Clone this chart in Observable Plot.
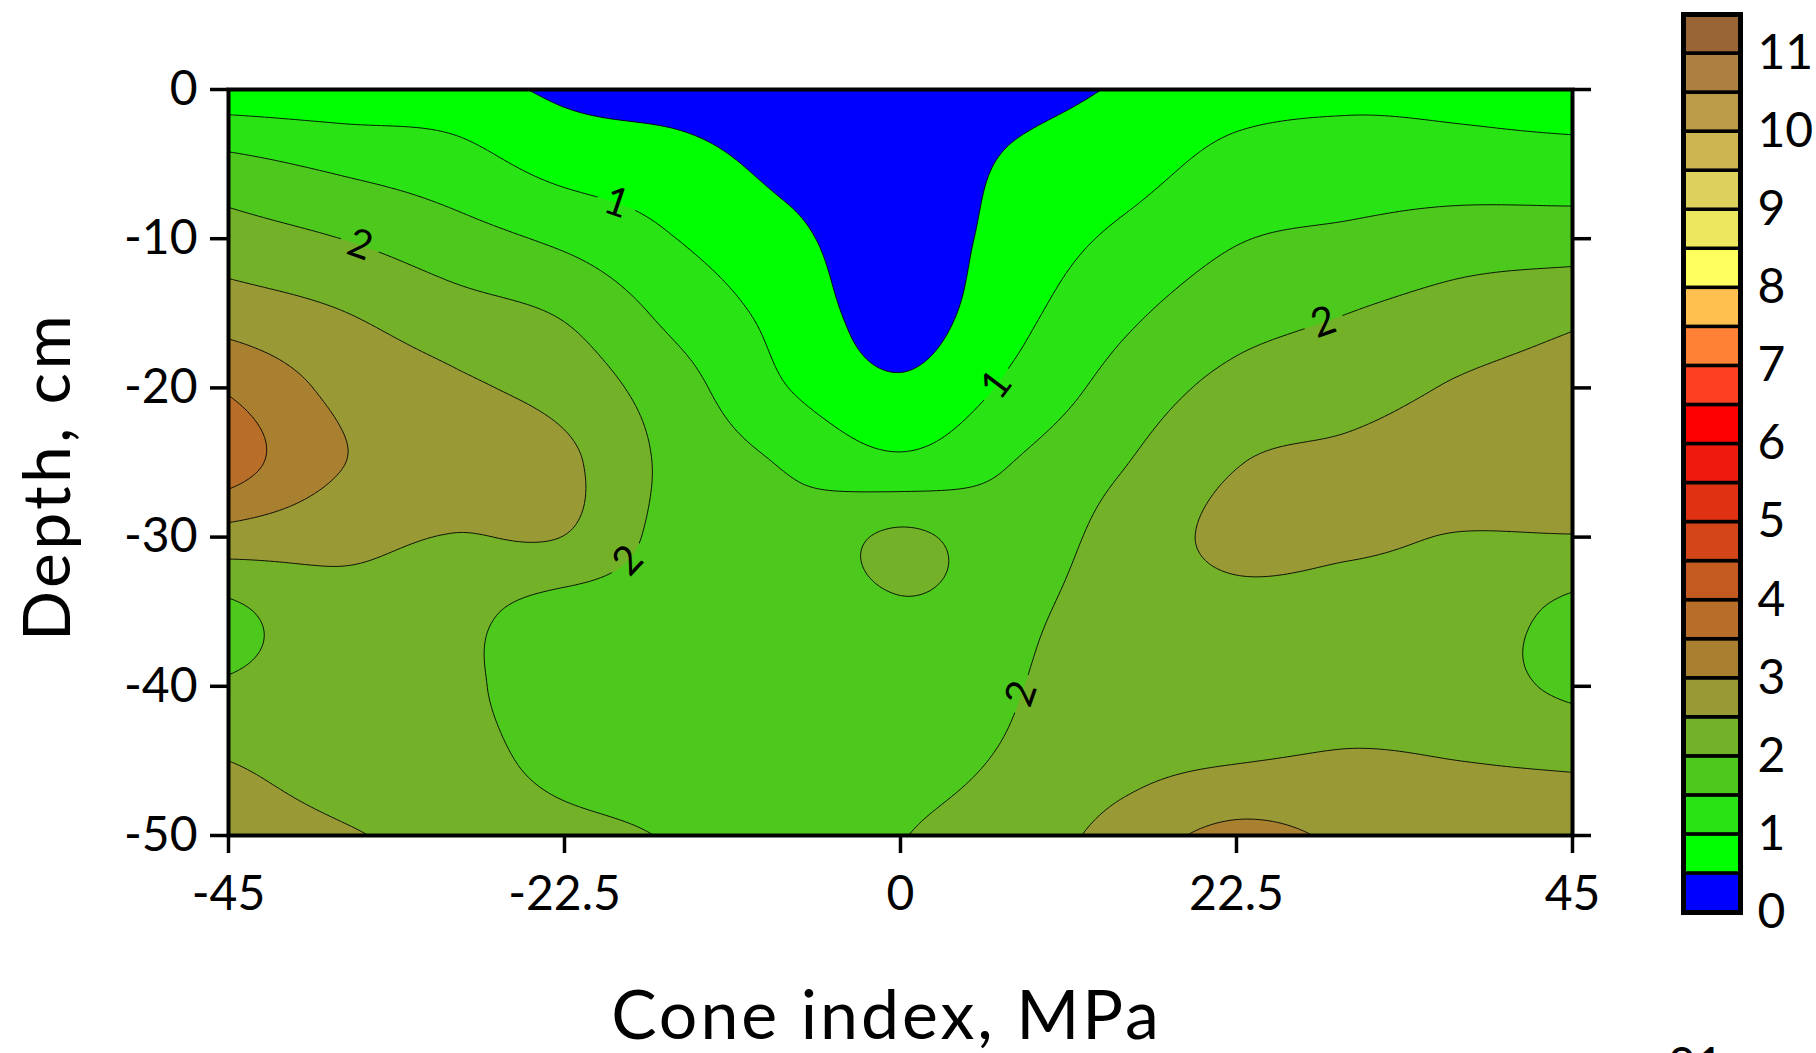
<!DOCTYPE html>
<html><head><meta charset="utf-8">
<script src="https://cdn.jsdelivr.net/npm/d3@7"></script>
<script src="https://cdn.jsdelivr.net/npm/@observablehq/plot@0.6"></script>
<style>
html,body{margin:0;padding:0;background:#fff;overflow:hidden;}
#wrap{position:relative;width:1816px;height:1053px;font-family:Lato,sans-serif;}
#main{position:absolute;left:0;top:0;}
#bar{position:absolute;left:1600px;top:0;}
#cut{position:absolute;left:1668px;top:1040px;font:48px/1 Lato,sans-serif;color:#000;}
</style></head><body>
<div id="wrap"><div id="main"></div><div id="bar"></div><div id="cut">01</div></div>
<script>
// ---- data ----
const xPositions = [-45, -37.5, -30, -22.5, -15, -7.5, 0, 7.5, 15, 22.5, 30, 37.5, 45];
const depths = [0, -5, -10, -15, -20, -25, -30, -35, -40, -45, -50];
const cone0  = [0.65, 0.65, 0.70, 0.40, 0.25, 0.10, 0.00, 0.30, 0.55, 0.80, 0.90, 0.85, 0.70];
const cone5  = [1.64, 1.40, 1.20, 0.83, 0.70, 0.35, 0.12, 0.57, 0.80, 1.15, 1.20, 1.20, 1.20];
const cone10 = [2.22, 2.00, 1.70, 1.40, 1.00, 0.62, 0.20, 0.70, 1.10, 1.47, 1.60, 1.75, 1.75];
const cone15 = [2.76, 2.52, 2.20, 1.95, 1.35, 0.82, 0.28, 0.85, 1.40, 1.80, 2.00, 2.20, 2.40];
const cone20 = [3.45, 2.88, 2.60, 2.30, 1.70, 1.00, 0.58, 1.10, 1.70, 2.15, 2.30, 2.55, 2.70];
const cone25 = [3.75, 3.02, 2.85, 2.60, 1.85, 1.45, 1.10, 1.50, 1.98, 2.48, 2.60, 2.75, 2.85];
const cone30 = [2.80, 2.65, 2.48, 2.49, 1.80, 1.65, 2.08, 1.75, 2.20, 2.62, 2.58, 2.48, 2.48];
const cone35 = [1.90, 2.30, 2.15, 1.80, 1.75, 1.70, 1.95, 1.90, 2.25, 2.35, 2.30, 2.25, 1.88];
const cone40 = [2.05, 2.20, 2.10, 1.75, 1.70, 1.65, 1.80, 1.97, 2.30, 2.20, 2.30, 2.20, 1.90];
const cone45 = [2.50, 2.30, 2.20, 1.85, 1.75, 1.60, 1.85, 2.05, 2.35, 2.48, 2.55, 2.50, 2.45];
const cone50 = [2.75, 2.55, 2.35, 2.15, 1.95, 1.60, 1.98, 2.20, 2.70, 3.15, 2.90, 2.70, 2.65];
const coneRows = [cone0, cone5, cone10, cone15, cone20, cone25, cone30, cone35, cone40, cone45, cone50];

const levels = d3.range(0, 11.5, 0.5);            // 0, 0.5, ... 11
const bandColors = ["#0000FF","#00FF00","#2AE314","#4CC91C","#73B228","#999A36","#A8802F","#B86E28",
  "#C55A20","#D4461A","#E03112","#EE1A0C","#FF0000","#FF4020","#FF8136","#FFC04F","#FFFF60",
  "#EDE760","#DED05D","#CDB651","#BC9B48","#AB8040","#9A6535"];
const barTicks = d3.range(0, 12);
const xTicks = [-45, -22.5, 0, 22.5, 45];
const yTicks = [0, -10, -20, -30, -40, -50];
const labelText = ["1", "2", "2", "1", "2", "2"];
const labelLevel = [1, 2, 2, 1, 2, 2];
const labelX = [-19.3, -36.3, -18.0, 6.7, 28.3, 8.1];
const labelY = [-8.3, -10.7, -31.8, -20.0, -15.5, -40.5];
const xTitle = "Cone index, MPa";
const yTitle = "Depth, cm";

// ---- smooth interpolation of the grid (Catmull-Rom) ----
const NXn = xPositions.length, NYn = depths.length;
const dxN = xPositions[1] - xPositions[0], dyN = depths[0] - depths[1];
function g(i, j) {
  if (i < 0) return 2 * g(0, j) - g(1, j);
  if (i >= NYn) return 2 * g(NYn - 1, j) - g(NYn - 2, j);
  if (j < 0) return 2 * g(i, 0) - g(i, 1);
  if (j >= NXn) return 2 * g(i, NXn - 1) - g(i, NXn - 2);
  return coneRows[i][j];
}
function cr(p0, p1, p2, p3, t) {
  return 0.5 * (2 * p1 + (-p0 + p2) * t + (2 * p0 - 5 * p1 + 4 * p2 - p3) * t * t + (-p0 + 3 * p1 - 3 * p2 + p3) * t * t * t);
}
function field(x, y) {
  const u = (x - xPositions[0]) / dxN, v = (depths[0] - y) / dyN;
  const j = Math.max(0, Math.min(NXn - 2, Math.floor(u))), t = u - j;
  const i = Math.max(0, Math.min(NYn - 2, Math.floor(v))), s = v - i;
  const r = [];
  for (let k = -1; k <= 2; k++) r.push(cr(g(i + k, j - 1), g(i + k, j), g(i + k, j + 1), g(i + k, j + 2), t));
  return cr(r[0], r[1], r[2], r[3], s);
}
const x1 = xPositions[0], x2 = xPositions[NXn - 1], y1 = depths[0], y2 = depths[NYn - 1];
const GW = 540, GH = 300;
const values = new Float64Array(GW * GH);
for (let i = 0; i < GH; i++) for (let j = 0; j < GW; j++) {
  const x = x1 + (j + 0.5) * (x2 - x1) / GW, y = y1 + (i + 0.5) * (y2 - y1) / GH;
  values[i * GW + j] = Math.max(0.001, field(x, y));
}

// ---- layout ----
const W = 1816, H = 1053, mL = 228, mR = 244, mT = 89, mB = 218;
const kx = (W - mL - mR) / (x2 - x1), ky = (H - mT - mB) / (y1 - y2);

// contour labels snapped onto their level and turned along the line
const labels = labelText.map((text, n) => {
  let x = labelX[n], y = labelY[n];
  const h = 0.01;
  for (let it = 0; it < 30; it++) {
    const f = field(x, y) - labelLevel[n];
    const fx = (field(x + h, y) - field(x - h, y)) / (2 * h);
    const fy = (field(x, y + h) - field(x, y - h)) / (2 * h);
    const gg = fx * fx + fy * fy;
    if (gg < 1e-9) break;
    x -= f * fx / gg; y -= f * fy / gg;
  }
  const fx = (field(x + h, y) - field(x - h, y)) / (2 * h);
  const fy = (field(x, y + h) - field(x, y - h)) / (2 * h);
  const gX = fx / kx, gY = -fy / ky;
  let ang = Math.atan2(gX, -gY) * 180 / Math.PI;
  if (ang > 90) ang -= 180;
  if (ang <= -90) ang += 180;
  return {text, x, y, angle: ang};
});

const colorScale = {type: "threshold", domain: levels.slice(1), range: bandColors};
const font = "Lato, sans-serif";
const contourOpts = {width: GW, height: GH, x1, x2, y1, y2, thresholds: levels};

const main = Plot.plot({
  width: W, height: H, marginLeft: mL, marginRight: mR, marginTop: mT, marginBottom: mB,
  style: {fontFamily: font, fontSize: "48px", background: "transparent", color: "#000", overflow: "visible"},
  x: {domain: [x1, x2], axis: null},
  y: {domain: [y2, y1], axis: null},
  color: colorScale,
  marks: [
    Plot.contour(values, {...contourOpts, fill: Plot.identity, stroke: "none"}),
    Plot.contour(values, {...contourOpts, fill: "none", stroke: "#000", strokeWidth: 1, strokeOpacity: 0.9}),
    Plot.text(labels, {x: "x", y: "y", text: "text", rotate: "angle", fontSize: 40, fontFamily: font, fill: "#000"}),
    Plot.frame({stroke: "#000", strokeWidth: 4}),
    Plot.axisX({ticks: xTicks, tickSize: 18, tickPadding: 22, strokeWidth: 3.5, tickFormat: d => String(d), label: null, fontSize: 48}),
    Plot.axisY({anchor: "left", ticks: yTicks, tickSize: 18, tickPadding: 13, strokeWidth: 3.5, tickFormat: d => String(d), label: null, fontSize: 48}),
    Plot.axisY({anchor: "right", ticks: yTicks, tickSize: 18, strokeWidth: 3.5, tickFormat: () => "", label: null}),
    Plot.text([xTitle], {frameAnchor: "bottom", textAnchor: "middle", dx: -14, dy: 182, fontSize: 68, fontFamily: font, lineAnchor: "middle", fill: "#000"}),
    Plot.text([yTitle], {frameAnchor: "left", textAnchor: "middle", rotate: -90, dx: -180, dy: 14, fontSize: 66, fontFamily: font, lineAnchor: "middle", fill: "#000"})
  ]
});
d3.select(main).selectAll("text").filter(function () { return this.textContent === xTitle; }).attr("letter-spacing", 3);
d3.select(main).selectAll("text").filter(function () { return this.textContent === yTitle; }).attr("letter-spacing", 3.3);

// break the contour lines where the labels sit
(function () {
  const sx = main.scale("x"), sy = main.scale("y");
  const svg = d3.select(main);
  const defs = svg.insert("defs", ":first-child");
  const mask = defs.append("mask").attr("id", "label-gaps").attr("maskUnits", "userSpaceOnUse")
    .attr("x", 0).attr("y", 0).attr("width", W).attr("height", H);
  mask.append("rect").attr("x", 0).attr("y", 0).attr("width", W).attr("height", H).attr("fill", "white");
  labels.forEach(d => {
    mask.append("rect").attr("x", -20).attr("y", -17).attr("width", 40).attr("height", 34).attr("fill", "black")
      .attr("transform", `translate(${sx.apply(d.x)},${sy.apply(d.y)}) rotate(${d.angle})`);
  });
  const groups = main.querySelectorAll("g[aria-label='contour']");
  if (groups.length > 1) groups[1].setAttribute("mask", "url(#label-gaps)");
})();
document.getElementById("main").appendChild(main);

const bands = levels.map(lo => ({lo, hi: lo + 0.5}));
const bar = Plot.plot({
  width: 216, height: H, marginLeft: 83, marginRight: 76, marginTop: 14, marginBottom: 141,
  style: {fontFamily: font, fontSize: "48px", background: "transparent", color: "#000", overflow: "visible"},
  x: {domain: [0, 1], axis: null},
  y: {domain: [0, 11.5], axis: null},
  color: colorScale,
  marks: [
    Plot.rect(bands, {x1: 0, x2: 1, y1: "lo", y2: "hi", fill: "lo", stroke: "#000", strokeWidth: 3.5}),
    Plot.frame({stroke: "#000", strokeWidth: 5}),
    Plot.axisY({anchor: "right", ticks: barTicks, tickSize: 0, tickPadding: 17, tickFormat: d => String(d), label: null, fontSize: 48})
  ]
});
document.getElementById("bar").appendChild(bar);
</script>
</body></html>
